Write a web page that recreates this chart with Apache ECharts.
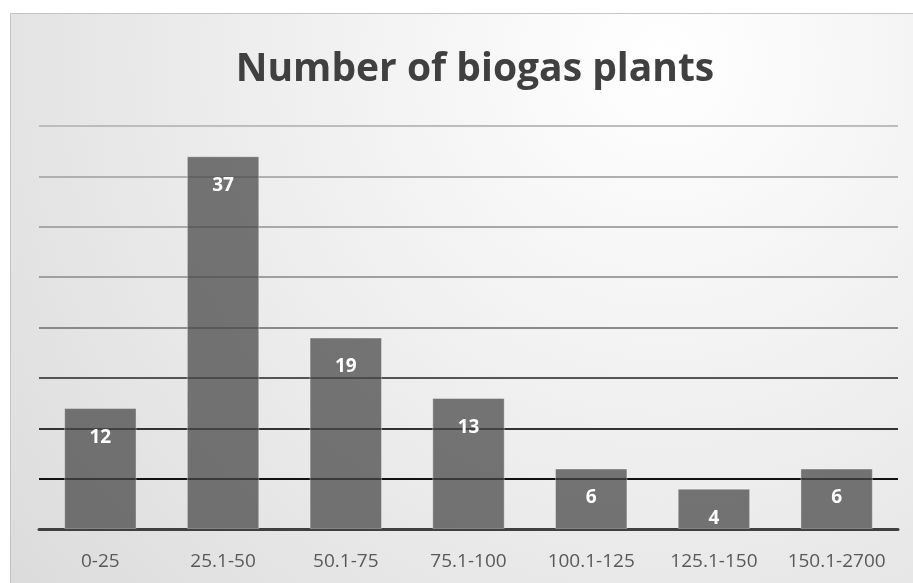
<!DOCTYPE html>
<html>
<head>
<meta charset="utf-8">
<script src="https://cdn.jsdelivr.net/npm/echarts@6/dist/echarts.min.js"></script>
<style>
  html, body { margin: 0; padding: 0; background: #fff; }
  #chart { width: 913px; height: 583px; }
</style>
</head>
<body>
<div id="chart"></div>
<script>
const categories = ["0-25", "25.1-50", "50.1-75", "75.1-100", "100.1-125", "125.1-150", "150.1-2700"];
const plants = [12, 37, 19, 13, 6, 4, 6];
const title = "Number of biogas plants";

// gridline shades from value 0 up to 40, darker near the axis
const gridColors = ["#222", "#111", "#333", "#555", "#8a8a8a", "#a0a0a0", "#a8a8a8", "#b0b0b0", "#bdbdbd"];

const chart = echarts.init(document.getElementById("chart"));

chart.setOption({
  backgroundColor: "#fff",
  animation: false,
  graphic: [
    {
      type: "rect",
      z: -10,
      silent: true,
      shape: { x: 10.5, y: 13.5, width: 905, height: 575 },
      style: {
        fill: {
          type: "radial", x: 0.72, y: 0.08, r: 1.6,
          colorStops: [
            { offset: 0, color: "#ffffff" },
            { offset: 1, color: "#d8d8d8" }
          ]
        },
        stroke: "#c4c4c4",
        lineWidth: 1
      }
    }
  ],
  title: {
    text: title,
    left: 470,
    top: 45,
    textAlign: "center",
    textStyle: {
      fontFamily: "Open Sans",
      fontWeight: "bold",
      fontSize: 39,
      color: "#404040"
    }
  },
  grid: { left: 39, right: 15, top: 126, bottom: 54, containLabel: false },
  xAxis: {
    type: "category",
    data: categories,
    axisTick: { show: false },
    axisLine: { lineStyle: { color: "#404040", width: 3 } },
    axisLabel: {
      interval: 0,
      color: "#595959",
      fontSize: 19,
      fontFamily: "Open Sans",
      margin: 23
    }
  },
  yAxis: {
    type: "value",
    min: 0,
    max: 40,
    interval: 5,
    axisLabel: { show: false },
    axisLine: { show: false },
    axisTick: { show: false },
    splitLine: { lineStyle: { color: gridColors, width: 2 } }
  },
  series: [
    {
      type: "bar",
      data: plants,
      barWidth: "59%",
      itemStyle: {
        color: "rgba(72,72,72,0.74)",
        borderColor: "rgba(255,255,255,0.35)",
        borderWidth: 1
      },
      label: {
        show: true,
        position: "insideTop",
        distance: 20,
        color: "#fff",
        fontWeight: "bold",
        fontSize: 19,
        fontFamily: "Open Sans"
      }
    }
  ]
});
</script>
</body>
</html>
